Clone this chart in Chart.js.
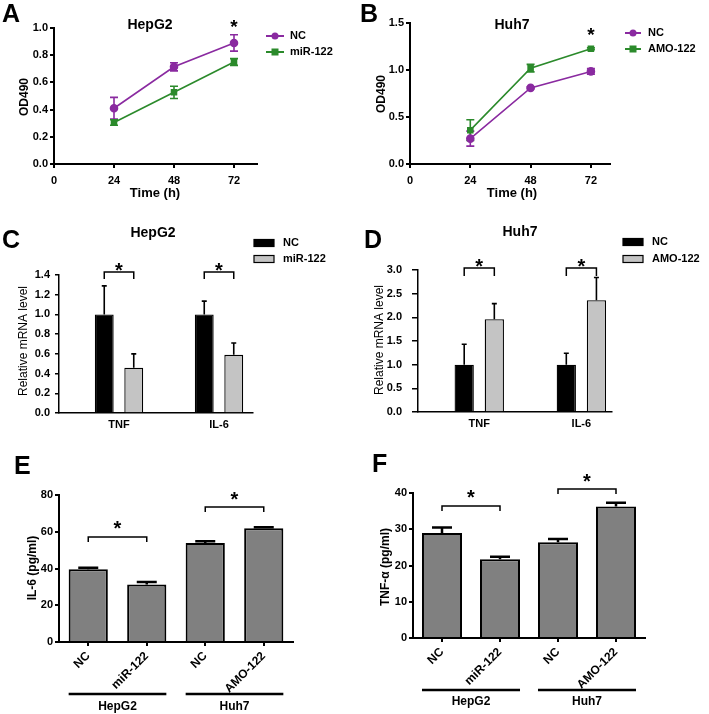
<!DOCTYPE html>
<html><head><meta charset="utf-8">
<script src="https://cdn.jsdelivr.net/npm/chart.js@4.4.1/dist/chart.umd.min.js"></script>
<style>
html,body{margin:0;padding:0;background:#fff;width:709px;height:714px;overflow:hidden}
canvas{position:absolute;left:0;top:0}
</style></head><body>
<canvas id="cA" width="709" height="714"></canvas>
<canvas id="cB" width="709" height="714"></canvas>
<canvas id="cC" width="709" height="714"></canvas>
<canvas id="cD" width="709" height="714"></canvas>
<canvas id="cE" width="709" height="714"></canvas>
<canvas id="cF" width="709" height="714"></canvas>
<script>
// ---------------- DATA ----------------
const timePoints = [24, 48, 72];
const timeTicks = [0, 24, 48, 72];
const hepg2OD_NC = [0.41, 0.715, 0.89];
const hepg2OD_NC_err = [0.08, 0.03, 0.06];
const hepg2OD_miR = [0.305, 0.527, 0.75];
const hepg2OD_miR_err = [0.02, 0.045, 0.025];
const huh7OD_NC = [0.27, 0.81, 0.985];
const huh7OD_NC_err = [0.08, 0.01, 0.03];
const huh7OD_AMO = [0.36, 1.02, 1.225];
const huh7OD_AMO_err = [0.11, 0.04, 0.01];

const mrnaGenes = ['TNF', 'IL-6'];
const hepg2mRNA_NC = [1.0, 1.0];
const hepg2mRNA_NC_err = [0.29, 0.135];
const hepg2mRNA_miR = [0.46, 0.59];
const hepg2mRNA_miR_err = [0.14, 0.12];
const huh7mRNA_NC = [1.0, 1.0];
const huh7mRNA_NC_err = [0.43, 0.24];
const huh7mRNA_AMO = [1.96, 2.36];
const huh7mRNA_AMO_err = [0.33, 0.48];

const elisaGroups = ['NC', 'miR-122', 'NC', 'AMO-122'];
const cellLines = ['HepG2', 'Huh7'];
const il6Values = [39.6, 31.3, 53.9, 61.9];
const il6Err = [0.8, 1.3, 0.9, 0.6];
const tnfValues = [29.0, 21.7, 26.4, 36.3];
const tnfErr = [1.5, 0.7, 0.9, 1.0];

// ---------------- STYLE ----------------
const FF = '"Liberation Sans", Arial, Helvetica, sans-serif';
const PURPLE = '#8a2aa0';
const GREEN = '#2b8a2b';
const W = 709, H = 714, YW = 40;

function txt(ctx, s, x, y, font, align, base, rot) {
  ctx.save(); ctx.translate(x, y); if (rot) ctx.rotate(rot);
  ctx.font = font; ctx.fillStyle = '#000';
  ctx.textAlign = align || 'center'; ctx.textBaseline = base || 'middle';
  ctx.fillText(s, 0, 0); ctx.restore();
}
function star(ctx, x, cy, size) {
  txt(ctx, '*', x, cy + size * 0.57, 'bold ' + size + 'px ' + FF, 'center', 'alphabetic');
}

const ANN = {};

function drawErrors(chart, a) {
  const ctx = chart.ctx, ys = chart.scales.y;
  (a.errors || []).forEach(e => {
    const meta = chart.getDatasetMeta(e.ds);
    const vals = chart.data.datasets[e.ds].data;
    meta.data.forEach((el, i) => {
      const raw = vals[i]; const v = (typeof raw === 'object') ? raw.y : raw;
      const top = ys.getPixelForValue(v + e.errs[i]);
      const bot = e.both ? ys.getPixelForValue(v - e.errs[i]) : ys.getPixelForValue(v);
      ctx.save(); ctx.strokeStyle = e.color; ctx.lineWidth = e.lw;
      ctx.beginPath();
      ctx.moveTo(el.x, top); ctx.lineTo(el.x, bot);
      ctx.moveTo(el.x - e.cap / 2, top); ctx.lineTo(el.x + e.cap / 2, top);
      if (e.both) { ctx.moveTo(el.x - e.cap / 2, bot); ctx.lineTo(el.x + e.cap / 2, bot); }
      ctx.stroke(); ctx.restore();
    });
  });
}

const annotPlugin = {
  id: 'annotPlugin',
  beforeDatasetsDraw(chart) {
    const a = ANN[chart.canvas.id]; if (a && a.errorsBelow) drawErrors(chart, a);
  },
  afterDatasetsDraw(chart) {
    const a = ANN[chart.canvas.id]; if (a && !a.errorsBelow) drawErrors(chart, a);
  },
  afterDraw(chart) {
    const a = ANN[chart.canvas.id]; if (!a) return;
    const ctx = chart.ctx, ys = chart.scales.y, xs = chart.scales.x;
    txt(ctx, a.letter[0], a.letter[1], a.letter[2], 'bold 25px ' + FF, 'left', 'alphabetic');
    if (a.title) txt(ctx, a.title[0], a.title[1], a.title[2], 'bold 14px ' + FF);
    if (a.yTitle) txt(ctx, a.yTitle[0], a.yTitle[1], a.yTitle[2], a.yTitle[3], 'center', 'middle', -Math.PI / 2);
    if (a.xTitle) txt(ctx, a.xTitle[0], a.xTitle[1], a.xTitle[2], a.xTitle[3]);
    if (a.legend) {
      const L = a.legend;
      chart.data.datasets.forEach((ds, i) => {
        const y = L.y[i];
        ctx.save();
        if (L.type === 'line') {
          ctx.strokeStyle = ds.borderColor; ctx.lineWidth = 2;
          ctx.beginPath(); ctx.moveTo(L.x1, y); ctx.lineTo(L.x2, y); ctx.stroke();
          ctx.fillStyle = ds.borderColor;
          const cx = (L.x1 + L.x2) / 2;
          if (ds.pointStyle === 'rect') ctx.fillRect(cx - 3.5, y - 3.5, 7, 7);
          else { ctx.beginPath(); ctx.arc(cx, y, 3.5, 0, Math.PI * 2); ctx.fill(); }
        } else {
          ctx.fillStyle = ds.backgroundColor; ctx.fillRect(L.x1, y - 3.5, L.x2 - L.x1, 7);
          ctx.strokeStyle = '#000'; ctx.lineWidth = 1.2; ctx.strokeRect(L.x1, y - 3.5, L.x2 - L.x1, 7);
        }
        ctx.restore();
        txt(ctx, ds.label, L.tx, y, 'bold 11px ' + FF, 'left', 'middle');
      });
    }
    (a.brackets || []).forEach(b => {
      const e1 = chart.getDatasetMeta(b.p1[0]).data[b.p1[1]];
      const e2 = chart.getDatasetMeta(b.p2[0]).data[b.p2[1]];
      const yt = ys.getPixelForValue(b.y);
      ctx.save(); ctx.strokeStyle = '#000'; ctx.lineWidth = b.lw || 1.5;
      ctx.beginPath();
      ctx.moveTo(e1.x, yt + b.drop); ctx.lineTo(e1.x, yt); ctx.lineTo(e2.x, yt); ctx.lineTo(e2.x, yt + b.drop);
      ctx.stroke(); ctx.restore();
      star(ctx, (e1.x + e2.x) / 2, yt - b.gap, b.size || 20);
    });
    (a.stars || []).forEach(s => {
      star(ctx, xs.getPixelForValue(s.x), ys.getPixelForValue(s.y), s.size || 20);
    });
    (a.groups || []).forEach(g => {
      const e1 = chart.getDatasetMeta(0).data[g.from];
      const e2 = chart.getDatasetMeta(0).data[g.to];
      const x1 = e1.x - e1.width / 2, x2 = e2.x + e2.width / 2;
      ctx.save(); ctx.strokeStyle = '#000'; ctx.lineWidth = 2.5;
      ctx.beginPath(); ctx.moveTo(x1, g.y); ctx.lineTo(x2, g.y); ctx.stroke(); ctx.restore();
      txt(ctx, g.label, (x1 + x2) / 2, g.ty, 'bold 12px ' + FF);
    });
  }
};
Chart.register(annotPlugin);

function yAxis(min, max, step, dec, tl, pad, lw) {
  return {
    type: 'linear', min: min, max: max,
    ticks: { stepSize: step, color: '#000', padding: pad, font: { family: FF, size: 11, weight: 'bold' },
      callback: v => Number(v).toFixed(dec) },
    grid: { drawOnChartArea: false, drawTicks: true, tickLength: tl, color: '#000', lineWidth: lw },
    border: { color: '#000', width: lw },
    afterFit(s) { s.width = YW; }
  };
}
function pad(L, R, T, B, XH) {
  return { left: L - YW, right: W - R, top: T, bottom: H - B - XH };
}
const common = {
  responsive: false, animation: false, devicePixelRatio: 1,
  events: [],
  plugins: { legend: { display: false }, tooltip: { enabled: false } }
};

function lineChart(id, L, R, T, B, xmax, ymin, ymax, ystep, series) {
  return new Chart(document.getElementById(id), {
    type: 'line',
    data: {
      datasets: series.map(s => ({
        label: s.label,
        data: timePoints.map((t, i) => ({ x: t, y: s.vals[i] })),
        borderColor: s.color, backgroundColor: s.color,
        pointBackgroundColor: s.color, pointBorderColor: s.color,
        pointStyle: s.style, pointRadius: 3.5, borderWidth: 1.6, clip: false
      }))
    },
    options: Object.assign({}, common, {
      layout: { padding: pad(L, R, T, B, 30) },
      scales: {
        x: {
          type: 'linear', min: 0, max: xmax,
          afterBuildTicks(s) { s.ticks = timeTicks.map(v => ({ value: v })); },
          ticks: { color: '#000', padding: 6, font: { family: FF, size: 11, weight: 'bold' }, callback: v => String(v) },
          grid: { drawOnChartArea: false, drawTicks: true, tickLength: 4, color: '#000', lineWidth: 2 },
          border: { color: '#000', width: 2 },
          afterFit(s) { s.height = 30; }
        },
        y: yAxis(ymin, ymax, ystep, 1, 4, 2, 2)
      }
    })
  });
}

ANN.cA = {
  letter: ['A', 2, 22], title: ['HepG2', 150, 25],
  yTitle: ['OD490', 25, 97, 'bold 12px ' + FF], xTitle: ['Time (h)', 155, 193, 'bold 13px ' + FF],
  legend: { type: 'line', x1: 266, x2: 284, tx: 290, y: [36, 52] },
  errorsBelow: true,
  errors: [
    { ds: 0, errs: hepg2OD_NC_err, both: true, cap: 8, lw: 1.6, color: PURPLE },
    { ds: 1, errs: hepg2OD_miR_err, both: true, cap: 8, lw: 1.6, color: GREEN }
  ],
  stars: [{ x: 72, y: 1.04, size: 19 }]
};
lineChart('cA', 54, 257, 28, 164, 81.2, 0, 1.0, 0.2, [
  { label: 'NC', vals: hepg2OD_NC, color: PURPLE, style: 'circle' },
  { label: 'miR-122', vals: hepg2OD_miR, color: GREEN, style: 'rect' }
]);

ANN.cB = {
  letter: ['B', 360, 22], title: ['Huh7', 512, 25],
  yTitle: ['OD490', 382, 94, 'bold 12px ' + FF], xTitle: ['Time (h)', 512, 193, 'bold 13px ' + FF],
  legend: { type: 'line', x1: 625, x2: 641, tx: 648, y: [33, 49] },
  errorsBelow: true,
  errors: [
    { ds: 0, errs: huh7OD_NC_err, both: true, cap: 8, lw: 1.6, color: PURPLE },
    { ds: 1, errs: huh7OD_AMO_err, both: true, cap: 8, lw: 1.6, color: GREEN }
  ],
  stars: [{ x: 72, y: 1.425, size: 19 }]
};
lineChart('cB', 410, 610, 23, 164, 79.6, 0, 1.5, 0.5, [
  { label: 'NC', vals: huh7OD_NC, color: PURPLE, style: 'circle' },
  { label: 'AMO-122', vals: huh7OD_AMO, color: GREEN, style: 'rect' }
]);

function mrnaChart(id, L, R, T, B, xmin, xmax, ymax, ystep, tl, tpad, sets) {
  return new Chart(document.getElementById(id), {
    type: 'bar',
    data: {
      datasets: sets.map(s => ({
        label: s.label,
        data: s.vals.map((v, i) => ({ x: i + 1, y: v })),
        backgroundColor: s.color, borderColor: '#000', borderWidth: 1.3, borderSkipped: 'bottom',
        categoryPercentage: 0.59, barPercentage: 0.64
      }))
    },
    options: Object.assign({}, common, {
      layout: { padding: pad(L, R, T, B, 30) },
      scales: {
        x: {
          type: 'linear', min: xmin, max: xmax, offset: false,
          afterBuildTicks(s) { s.ticks = mrnaGenes.map((g, i) => ({ value: i + 1 })); },
          ticks: { color: '#000', padding: 5, font: { family: FF, size: 11, weight: 'bold' },
            callback: (v, i) => mrnaGenes[i] },
          grid: { display: true, drawOnChartArea: false, drawTicks: false, color: '#000', lineWidth: 1.5 },
          border: { color: '#000', width: 1.5 },
          afterFit(s) { s.height = 30; }
        },
        y: yAxis(0, ymax, ystep, 1, tl, tpad, 1.5)
      }
    })
  });
}

ANN.cC = {
  letter: ['C', 2, 248], title: ['HepG2', 153, 233],
  yTitle: ['Relative mRNA level', 24, 341, '12px ' + FF],
  legend: { type: 'bar', x1: 254, x2: 274, tx: 283, y: [243, 259] },
  errors: [
    { ds: 0, errs: hepg2mRNA_NC_err, both: false, cap: 5, lw: 1.6, color: '#000' },
    { ds: 1, errs: hepg2mRNA_miR_err, both: false, cap: 5, lw: 1.6, color: '#000' }
  ],
  brackets: [
    { p1: [0, 0], p2: [1, 0], y: 1.43, drop: 7, gap: 6, size: 20 },
    { p1: [0, 1], p2: [1, 1], y: 1.43, drop: 7, gap: 6, size: 20 }
  ]
};
mrnaChart('cC', 59, 253, 275, 413, 0.4, 2.34, 1.4, 0.2, 4, 5, [
  { label: 'NC', vals: hepg2mRNA_NC, color: '#000' },
  { label: 'miR-122', vals: hepg2mRNA_miR, color: '#c4c4c4' }
]);

ANN.cD = {
  letter: ['D', 364, 248], title: ['Huh7', 520, 232],
  yTitle: ['Relative mRNA level', 380, 340, '12px ' + FF],
  legend: { type: 'bar', x1: 623, x2: 643, tx: 652, y: [242, 259] },
  errors: [
    { ds: 0, errs: huh7mRNA_NC_err, both: false, cap: 5, lw: 1.6, color: '#000' },
    { ds: 1, errs: huh7mRNA_AMO_err, both: false, cap: 5, lw: 1.6, color: '#000' }
  ],
  brackets: [
    { p1: [0, 0], p2: [1, 0], y: 3.04, drop: 8, gap: 7, size: 20 },
    { p1: [0, 1], p2: [1, 1], y: 3.04, drop: 8, gap: 7, size: 20 }
  ]
};
mrnaChart('cD', 418, 612, 270, 412, 0.4, 2.3, 3.0, 0.5, 6, 10, [
  { label: 'NC', vals: huh7mRNA_NC, color: '#000' },
  { label: 'AMO-122', vals: huh7mRNA_AMO, color: '#c4c4c4' }
]);

function elisaChart(id, L, R, T, B, ymax, ystep, vals, label, bp) {
  return new Chart(document.getElementById(id), {
    type: 'bar',
    data: {
      labels: elisaGroups,
      datasets: [{ label: label, data: vals, backgroundColor: '#808080', borderColor: '#000',
        borderWidth: 2, borderSkipped: 'bottom', categoryPercentage: 1, barPercentage: bp }]
    },
    options: Object.assign({}, common, {
      layout: { padding: pad(L, R, T, B, 60) },
      scales: {
        x: {
          type: 'category', offset: true,
          ticks: { color: '#000', padding: 3, autoSkip: false, minRotation: 45, maxRotation: 45,
            font: { family: FF, size: 12, weight: 'bold' } },
          grid: { offset: false, drawOnChartArea: false, drawTicks: true, tickLength: 4, color: '#000', lineWidth: 2 },
          border: { color: '#000', width: 2 },
          afterFit(s) { s.height = 60; }
        },
        y: yAxis(0, ymax, ystep, 0, 4, 2, 2)
      }
    })
  });
}

ANN.cE = {
  letter: ['E', 14, 474],
  yTitle: ['IL-6 (pg/ml)', 33, 568, 'bold 12px ' + FF],
  errors: [{ ds: 0, errs: il6Err, both: false, cap: 20, lw: 2.5, color: '#000' }],
  brackets: [
    { p1: [0, 0], p2: [0, 1], y: 57.1, drop: 5, gap: 13, size: 20 },
    { p1: [0, 2], p2: [0, 3], y: 73.5, drop: 5, gap: 12, size: 20 }
  ],
  groups: [
    { from: 0, to: 1, label: cellLines[0], y: 694, ty: 707 },
    { from: 2, to: 3, label: cellLines[1], y: 694, ty: 707 }
  ]
};
elisaChart('cE', 59, 293, 495, 642, 80, 20, il6Values, 'IL-6', 0.67);

ANN.cF = {
  letter: ['F', 372, 472],
  yTitle: ['TNF-\u03b1 (pg/ml)', 386, 567, 'bold 12px ' + FF],
  errors: [{ ds: 0, errs: tnfErr, both: false, cap: 20, lw: 2.5, color: '#000' }],
  brackets: [
    { p1: [0, 0], p2: [0, 1], y: 36.4, drop: 5, gap: 13, size: 20 },
    { p1: [0, 2], p2: [0, 3], y: 41.1, drop: 5, gap: 12, size: 20 }
  ],
  groups: [
    { from: 0, to: 1, label: cellLines[0], y: 690, ty: 702 },
    { from: 2, to: 3, label: cellLines[1], y: 690, ty: 702 }
  ]
};
elisaChart('cF', 413, 645, 493, 638, 40, 10, tnfValues, 'TNF-\u03b1', 0.69);
</script>
</body></html>
